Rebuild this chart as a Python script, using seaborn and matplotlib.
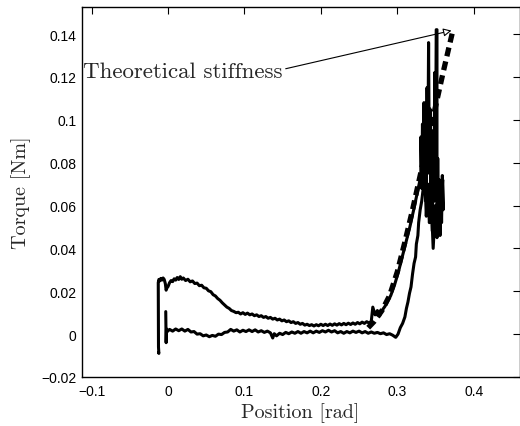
import matplotlib
matplotlib.use("Agg")
import matplotlib.pyplot as plt
import seaborn as sns
import pandas as pd

# ---------------- data ----------------
# measured torque/position loop (one continuous path)
measured_x = [
    -0.0125, -0.0120, -0.0125, -0.0128, -0.0120, -0.0110, -0.0095, -0.0080, -0.0065, -0.0050,
    -0.0035, -0.0025, -0.0015, 0.0000, 0.0020, 0.0040, 0.0060, 0.0080, 0.0100, 0.0120,
    0.0140, 0.0160, 0.0180, 0.0200, 0.0230, 0.0260, 0.0290, 0.0320, 0.0350, 0.0380,
    0.0410, 0.0440, 0.0470, 0.0500, 0.0530, 0.0560, 0.0590, 0.0620, 0.0650, 0.0680,
    0.0710, 0.0740, 0.0770, 0.0800, 0.0830, 0.0860, 0.0890, 0.0920, 0.0950, 0.0980,
    0.1010, 0.1040, 0.1070, 0.1100, 0.1130, 0.1160, 0.1190, 0.1220, 0.1250, 0.1280,
    0.1310, 0.1340, 0.1370, 0.1400, 0.1430, 0.1460, 0.1490, 0.1520, 0.1550, 0.1580,
    0.1610, 0.1640, 0.1670, 0.1700, 0.1730, 0.1760, 0.1790, 0.1820, 0.1850, 0.1880,
    0.1910, 0.1940, 0.1970, 0.2000, 0.2030, 0.2060, 0.2090, 0.2120, 0.2150, 0.2180,
    0.2210, 0.2240, 0.2270, 0.2300, 0.2330, 0.2360, 0.2390, 0.2420, 0.2450, 0.2480,
    0.2510, 0.2540, 0.2570, 0.2600, 0.2630, 0.2660,
    0.2680, 0.2710, 0.2740, 0.2770, 0.2800, 0.2840, 0.2870, 0.2915, 0.2965, 0.3015,
    0.3065, 0.3115, 0.3165, 0.3215, 0.3262, 0.3310,
    0.331, 0.332, 0.333, 0.334, 0.335, 0.336, 0.337, 0.338, 0.339, 0.340,
    0.341, 0.342, 0.343, 0.344, 0.345, 0.346, 0.347, 0.348, 0.349, 0.350,
    0.351, 0.352, 0.352, 0.353, 0.354, 0.355, 0.356, 0.357, 0.358, 0.359,
    0.360, 0.3595, 0.357, 0.355, 0.352, 0.350, 0.347, 0.345, 0.342, 0.340,
    0.338, 0.336, 0.334,
    0.332, 0.330, 0.328, 0.327, 0.325, 0.324, 0.322, 0.320, 0.318, 0.316,
    0.314, 0.312, 0.310, 0.307, 0.304, 0.301, 0.298, 0.296, 0.294,
    0.290, 0.286, 0.282, 0.278, 0.274, 0.270, 0.266, 0.262, 0.258, 0.254,
    0.250, 0.246, 0.242, 0.238, 0.234, 0.230, 0.226, 0.222, 0.218, 0.214,
    0.210, 0.206, 0.202, 0.198, 0.194, 0.190, 0.186, 0.182, 0.178, 0.174,
    0.170, 0.166, 0.162, 0.158, 0.154, 0.150, 0.146, 0.142, 0.139, 0.137,
    0.134, 0.130, 0.126, 0.122, 0.118, 0.114, 0.110, 0.106, 0.102, 0.098,
    0.094, 0.090, 0.086, 0.082, 0.078, 0.074, 0.070, 0.066, 0.062, 0.058,
    0.054, 0.050, 0.046, 0.042, 0.038, 0.034, 0.030, 0.026, 0.022, 0.018,
    0.014, 0.010, 0.006, 0.002, -0.001, -0.002, -0.0025, -0.0030,
]
measured_y = [
    -0.0085, -0.0090, -0.0060, 0.0240, 0.0255, 0.0248, 0.0260, 0.0252, 0.0262, 0.0255,
    0.0235, 0.0205, 0.0215, 0.0222, 0.0240, 0.0250, 0.0245, 0.0258, 0.0252, 0.0264,
    0.0255, 0.0268, 0.0256, 0.0262, 0.0250, 0.0256, 0.0244, 0.0248, 0.0236, 0.0238,
    0.0226, 0.0228, 0.0216, 0.0214, 0.0202, 0.0198, 0.0184, 0.0178, 0.0166, 0.0158,
    0.0146, 0.0136, 0.0126, 0.0120, 0.0110, 0.0106, 0.0100, 0.0102, 0.0094, 0.0100,
    0.0092, 0.0098, 0.0090, 0.0094, 0.0086, 0.0090, 0.0082, 0.0086, 0.0078, 0.0082,
    0.0074, 0.0078, 0.0070, 0.0074, 0.0066, 0.0070, 0.0062, 0.0066, 0.0058, 0.0062,
    0.0054, 0.0058, 0.0050, 0.0054, 0.0046, 0.0050, 0.0042, 0.0046, 0.0040, 0.0044,
    0.0038, 0.0044, 0.0039, 0.0046, 0.0040, 0.0046, 0.0040, 0.0047, 0.0041, 0.0048,
    0.0042, 0.0049, 0.0043, 0.0050, 0.0044, 0.0051, 0.0045, 0.0052, 0.0046, 0.0054,
    0.0048, 0.0056, 0.0050, 0.0058, 0.0052, 0.0060,
    0.0126, 0.0090, 0.0110, 0.0085, 0.0110, 0.0130, 0.0150, 0.0180, 0.0230, 0.0290,
    0.0360, 0.0430, 0.0500, 0.0580, 0.0660, 0.0740,
    0.092, 0.068, 0.098, 0.072, 0.108, 0.078, 0.088, 0.062, 0.115, 0.080,
    0.136, 0.075, 0.105, 0.058, 0.095, 0.048, 0.090, 0.062, 0.122, 0.070,
    0.142, 0.142, 0.045, 0.082, 0.050, 0.072, 0.046, 0.070, 0.052, 0.074,
    0.058, 0.072, 0.056, 0.064, 0.050, 0.060, 0.040, 0.058, 0.052, 0.070,
    0.055, 0.075, 0.068,
    0.062, 0.058, 0.052, 0.046, 0.042, 0.036, 0.033, 0.028, 0.022, 0.019,
    0.015, 0.012, 0.008, 0.005, 0.003, 0.000, -0.0015, -0.0010, -0.0005,
    0.0002, -0.0002, 0.0006, 0.0002, 0.0008, 0.0004, 0.0010, 0.0004, 0.0012, 0.0006,
    0.0014, 0.0008, 0.0014, 0.0006, 0.0012, 0.0004, 0.0012, 0.0006, 0.0016, 0.0010,
    0.0018, 0.0010, 0.0016, 0.0008, 0.0014, 0.0006, 0.0014, 0.0006, 0.0012, 0.0004,
    0.0012, 0.0004, 0.0010, 0.0002, 0.0008, -0.0002, 0.0004, -0.0008, 0.0002, -0.0018,
    0.0006, 0.0014, 0.0008, 0.0016, 0.0010, 0.0020, 0.0012, 0.0020, 0.0012, 0.0018,
    0.0010, 0.0020, 0.0014, 0.0022, 0.0010, 0.0008, -0.0002, 0.0000, -0.0010, -0.0006,
    -0.0012, -0.0004, -0.0008, 0.0002, 0.0000, 0.0012, 0.0010, 0.0022, 0.0014, 0.0024,
    0.0016, 0.0024, 0.0014, 0.0022, 0.0012, 0.0024, -0.0040, 0.0105,
]

# theoretical stiffness curve
theory_x = [0.262, 0.270, 0.280, 0.290, 0.300, 0.310, 0.320, 0.330, 0.340, 0.350, 0.360, 0.373]
theory_y = [0.003, 0.006, 0.011, 0.018, 0.029, 0.043, 0.058, 0.074, 0.090, 0.106, 0.122, 0.142]

x_ticks = [-0.1, 0, 0.1, 0.2, 0.3, 0.4]
x_tick_labels = ["\u22120.1", "0", "0.1", "0.2", "0.3", "0.4"]
y_ticks = [-0.02, 0, 0.02, 0.04, 0.06, 0.08, 0.1, 0.12, 0.14]
y_tick_labels = ["\u22120.02", "0", "0.02", "0.04", "0.06", "0.08", "0.1", "0.12", "0.14"]

annotation_text = "Theoretical stiffness"
x_label = "Position [rad]"
y_label = "Torque [Nm]"

# ---------------- plot ----------------
sns.set_theme(style="white")
plt.rcParams["font.family"] = ["Liberation Sans", "DejaVu Sans"]

fig = plt.figure(figsize=(5.2, 4.27), dpi=100)
ax = fig.add_axes([81.7 / 520, 49 / 427, 437.8 / 520, 370 / 427])

df_meas = pd.DataFrame({"x": measured_x, "y": measured_y})
df_theo = pd.DataFrame({"x": theory_x, "y": theory_y})

sns.lineplot(data=df_meas, x="x", y="y", sort=False, estimator=None,
             color="black", lw=2.2, ax=ax)
sns.lineplot(data=df_theo, x="x", y="y", sort=False, estimator=None,
             color="black", lw=3.8, dashes=False, ax=ax)
ax.lines[-1].set_dashes((1.7, 1.0))
ax.lines[-1].set_zorder(5)

ax.set_xlim(-0.113, 0.46)
ax.set_ylim(-0.02, 0.1526)
ax.set_xticks(x_ticks)
ax.set_xticklabels(x_tick_labels)
ax.set_yticks(y_ticks)
ax.set_yticklabels(y_tick_labels)
ax.tick_params(direction="in", length=5, width=0.8, top=True, right=True,
               labelsize=10, colors="black", pad=5)
ax.tick_params(axis="y", pad=4)
for s in ax.spines.values():
    s.set_visible(True)
    s.set_color("black")
    s.set_linewidth(1.0)

ax.set_xlabel(x_label, family="cmr10", fontsize=14.5, labelpad=3)
ax.set_ylabel(y_label, family="cmr10", fontsize=14.5, labelpad=7)

ax.text(-0.111, 0.1228, annotation_text, family="cmr10", fontsize=16.5,
        ha="left", va="center")
ax.annotate("", xy=(0.371, 0.1416), xytext=(0.154, 0.1238),
            arrowprops=dict(arrowstyle="-|>", color="black", lw=0.8,
                            mutation_scale=12, fc="white", shrinkA=0, shrinkB=0))

fig.savefig("out.png", dpi=100)
